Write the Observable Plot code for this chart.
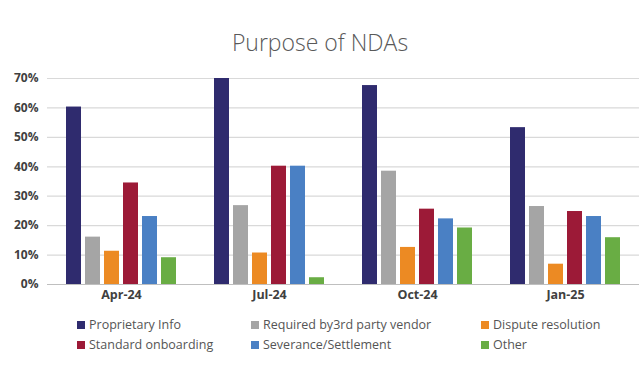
<!DOCTYPE html>
<html>
<head>
<meta charset="utf-8">
<script src="https://cdn.jsdelivr.net/npm/d3@7"></script>
<script src="https://cdn.jsdelivr.net/npm/@observablehq/plot@0.6"></script>
<style>
  html, body { margin: 0; padding: 0; background: #fff; }
  body { width: 640px; height: 373px; overflow: hidden; font-family: "Open Sans", sans-serif; }
  #title { height: 60px; box-sizing: border-box; padding-top: 30px; text-align: center; font-size: 23px; font-weight: 300; color: #595959; line-height: 24px; }
  #chart svg { display: block; }
  #legend { position: relative; height: 63px; font-size: 12.5px; color: #555; }
  .item { position: absolute; display: flex; align-items: center; white-space: nowrap; line-height: 16px; }
  .sw { width: 8px; height: 8px; margin-right: 4px; }
</style>
</head>
<body>
<div id="title">Purpose of NDAs</div>
<div id="chart"></div>
<div id="legend"></div>
<script>
const periods = ["Apr-24", "Jul-24", "Oct-24", "Jan-25"];
const seriesNames = ["Proprietary Info", "Required by3rd party vendor", "Dispute resolution", "Standard onboarding", "Severance/Settlement", "Other"];
const colors = ["#2f2b6e", "#a5a5a5", "#ec8a23", "#9c1a37", "#4a80c4", "#69ad44"];
const proprietaryInfo = [60.3, 70.0, 67.6, 53.3];
const requiredVendor = [16.1, 26.8, 38.5, 26.5];
const disputeResolution = [11.3, 10.7, 12.6, 6.9];
const standardOnboarding = [34.5, 40.2, 25.6, 24.8];
const severanceSettlement = [23.1, 40.2, 22.3, 23.1];
const other = [9.1, 2.3, 19.2, 15.9];
const yTicks = [0, 10, 20, 30, 40, 50, 60, 70];

const seriesValues = [proprietaryInfo, requiredVendor, disputeResolution, standardOnboarding, severanceSettlement, other];
const data = [];
periods.forEach((p, i) => seriesNames.forEach((s, j) => data.push({period: p, series: s, value: seriesValues[j][i]})));

const chart = Plot.plot({
  width: 640,
  height: 250,
  marginTop: 18,
  marginBottom: 26,
  marginLeft: 47,
  marginRight: 1,
  style: {fontFamily: "'Open Sans', sans-serif", fontSize: "12px", color: "#404040", background: "#fff"},
  fx: {domain: periods, padding: 0, label: null, tickSize: 0, tickPadding: 6},
  x: {domain: seriesNames, axis: null, paddingInner: 0.22, paddingOuter: 0.86},
  y: {domain: [0, 70], ticks: yTicks, tickFormat: d => d + "%", tickSize: 0, tickPadding: 9, label: null},
  color: {domain: seriesNames, range: colors},
  marks: [
    Plot.ruleY(yTicks.filter(d => d > 0), {stroke: "#d9d9d9", strokeWidth: 1.2}),
    Plot.barY(data, {fx: "period", x: "series", y: "value", fill: "series"}),
    Plot.ruleY([0], {stroke: "#bfbfbf", strokeWidth: 1.2})
  ]
});
chart.querySelectorAll("text").forEach(t => { t.setAttribute("font-weight", "700"); t.setAttribute("fill", "#404040"); });
chart.querySelectorAll("g[aria-label^='fx-axis'] text").forEach(t => { t.setAttribute("font-size", "12.5px"); });
document.getElementById("chart").appendChild(chart);

const legend = document.getElementById("legend");
const colX = [77, 251, 481];
seriesNames.forEach((s, i) => {
  const it = document.createElement("div");
  it.className = "item";
  it.style.left = colX[i % 3] + "px";
  it.style.top = (i < 3 ? 7 : 27) + "px";
  it.innerHTML = `<span class="sw" style="background:${colors[i]}"></span><span>${s}</span>`;
  legend.appendChild(it);
});
</script>
</body>
</html>
